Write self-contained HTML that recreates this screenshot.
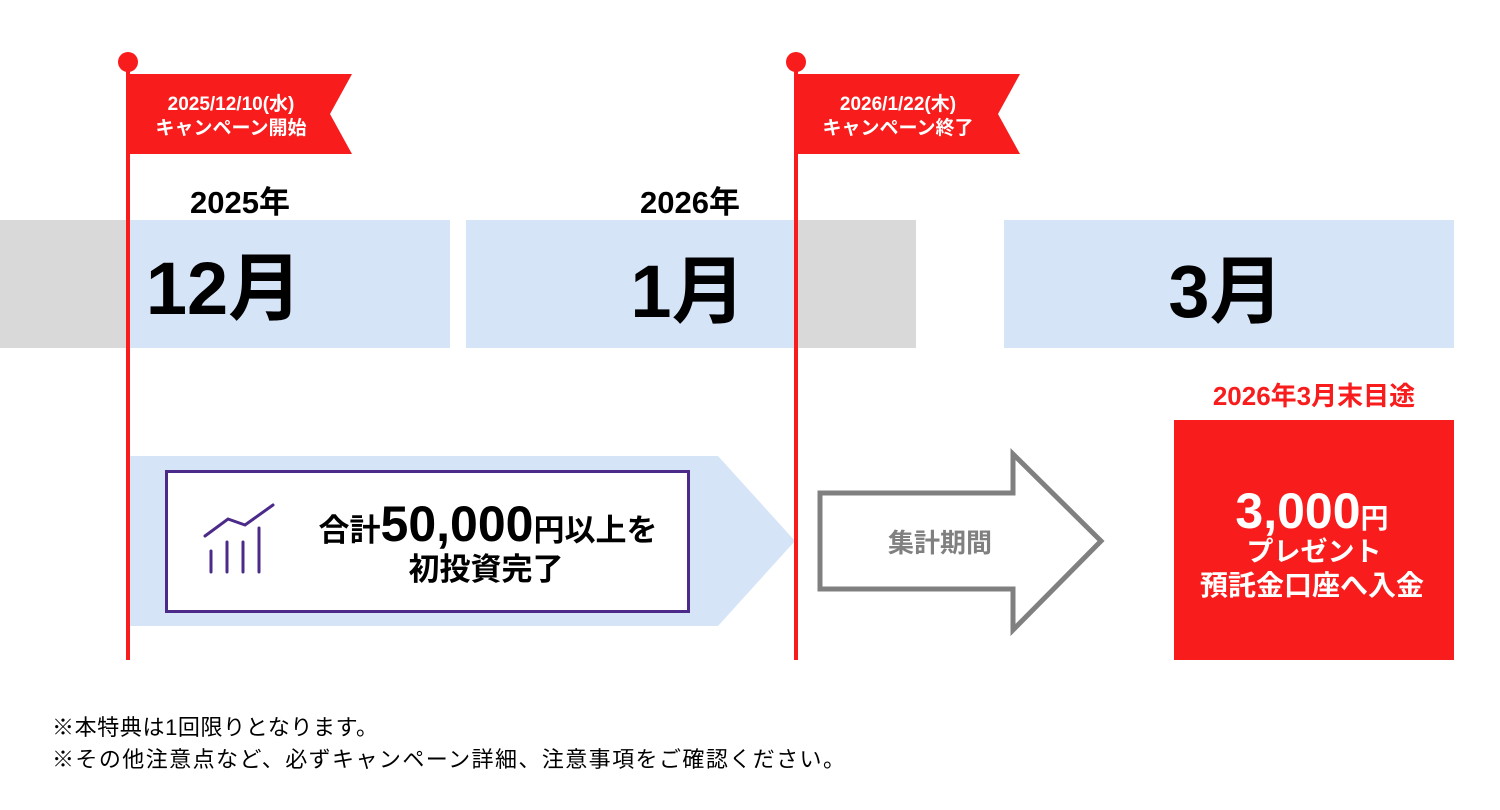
<!DOCTYPE html>
<html><head><meta charset="utf-8"><style>
body{margin:0;background:#fff;}
svg{display:block;}
text{font-family:"Liberation Sans","Noto Sans CJK JP",sans-serif;font-weight:bold;}
</style></head><body>
<svg width="1500" height="810" viewBox="0 0 1500 810" xmlns="http://www.w3.org/2000/svg">
<rect x="0" y="220" width="128" height="128" fill="#d9d9d9"/>
<rect x="796" y="220" width="120" height="128" fill="#d9d9d9"/>
<rect x="128" y="220" width="322" height="128" fill="#d6e4f8"/>
<rect x="466" y="220" width="330" height="128" fill="#d6e4f8"/>
<rect x="1004" y="220" width="450" height="128" fill="#d6e4f8"/>
<text x="240" y="213" font-size="31" text-anchor="middle" fill="#000">2025年</text>
<text x="690" y="213" font-size="31" text-anchor="middle" fill="#000">2026年</text>
<text x="224" y="314" font-size="74" text-anchor="middle" fill="#000">12月</text>
<text x="688" y="317" font-size="74" text-anchor="middle" fill="#000">1月</text>
<text x="1226" y="317" font-size="74" text-anchor="middle" fill="#000">3月</text>
<polygon points="128,456 718,456 795,541 718,626 128,626" fill="#d6e4f8"/>
<rect x="166.5" y="471.5" width="522" height="140" fill="#fff" stroke="#4b2a8a" stroke-width="3"/>
<g stroke="#4b2a8a" stroke-width="3" fill="none" stroke-linecap="round">
<polyline points="205,536 228,519 245,525 273,505"/>
<line x1="211" y1="551" x2="211" y2="572"/><line x1="227" y1="542" x2="227" y2="572"/><line x1="243" y1="542" x2="243" y2="572"/><line x1="259" y1="528" x2="259" y2="572"/>
</g>
<text x="488" y="541" font-size="31" text-anchor="middle" fill="#000">合計<tspan font-size="50">50,000</tspan>円以上を</text>
<text x="486" y="580" font-size="31" text-anchor="middle" fill="#000">初投資完了</text>
<polygon points="820,493 1013,493 1013,454 1101,541 1013,630 1013,589 820,589" fill="#fff" stroke="#808080" stroke-width="5"/>
<text x="940" y="552" font-size="26" text-anchor="middle" fill="#808080">集計期間</text>
<text x="1314" y="405" font-size="26" text-anchor="middle" fill="#f81c1c">2026年3月末目途</text>
<rect x="1174" y="420" width="280" height="240" fill="#f81c1c"/>
<text x="1312" y="528" font-size="50" text-anchor="middle" fill="#fff">3,000<tspan font-size="28">円</tspan></text>
<text x="1314" y="561" font-size="27" text-anchor="middle" fill="#fff">プレゼント</text>
<text x="1312" y="595" font-size="28" text-anchor="middle" fill="#fff">預託金口座へ入金</text>
<rect x="126" y="62" width="4" height="598" fill="#f81c1c"/>
<circle cx="128" cy="62" r="10" fill="#f81c1c"/>
<polygon points="128,74 352,74 330,114 352,154 128,154" fill="#f81c1c"/>
<text x="231" y="110" font-size="19" text-anchor="middle" fill="#fff">2025/12/10(水)</text>
<text x="231" y="134" font-size="19" text-anchor="middle" fill="#fff">キャンペーン開始</text>
<rect x="794" y="62" width="4" height="598" fill="#f81c1c"/>
<circle cx="796" cy="62" r="10" fill="#f81c1c"/>
<polygon points="796,74 1020,74 998,114 1020,154 796,154" fill="#f81c1c"/>
<text x="898" y="110" font-size="19" text-anchor="middle" fill="#fff">2026/1/22(木)</text>
<text x="898" y="134" font-size="19" text-anchor="middle" fill="#fff">キャンペーン終了</text>
<text x="52" y="735" font-size="22" fill="#000" style="font-weight:normal" textLength="326">※本特典は1回限りとなります。</text>
<text x="52" y="767" font-size="22" fill="#000" style="font-weight:normal" textLength="793">※その他注意点など、必ずキャンペーン詳細、注意事項をご確認ください。</text>
</svg>
</body></html>
